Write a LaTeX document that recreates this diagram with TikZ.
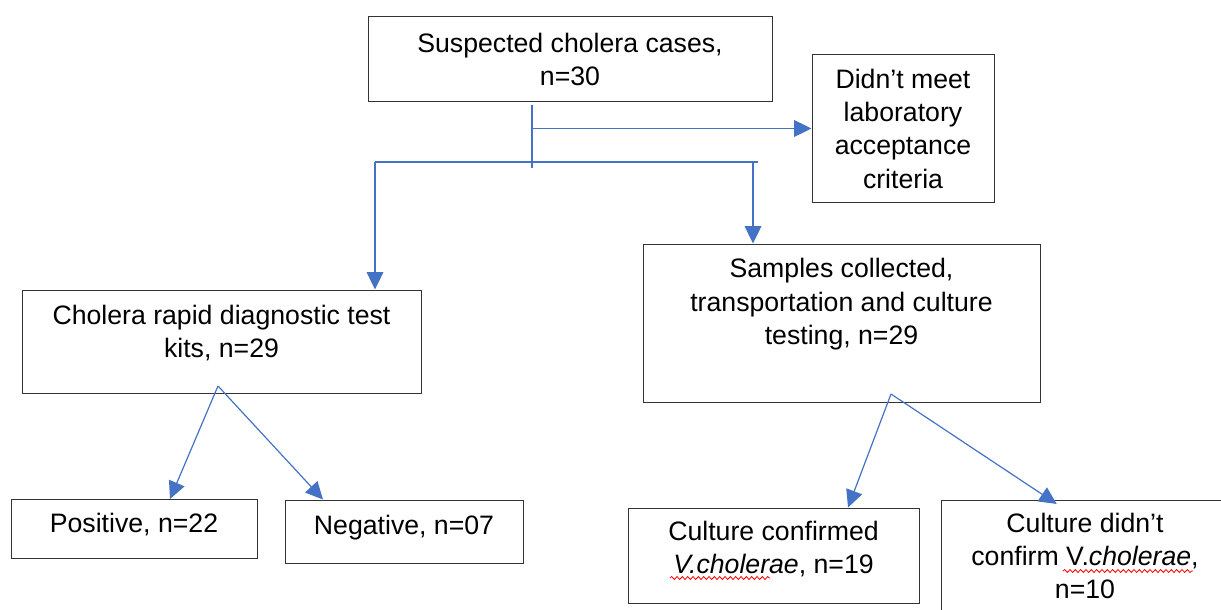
\documentclass[tikz,border=0pt]{standalone}
\usepackage{fontspec}
\setmainfont{Liberation Sans}
\usetikzlibrary{arrows.meta,decorations.pathmorphing}
\definecolor{linkblue}{RGB}{68,114,196}
\tikzset{
  box/.style={draw=black!80,line width=0.75pt,inner sep=0pt,align=center,font=\fontsize{20}{25}\selectfont},
  link/.style={draw=linkblue,line width=0.9pt},
  arrow/.style={link,-{Triangle[length=13pt,width=12.5pt]}},
  spellwave/.style={draw=red,line width=0.6pt,decorate,decoration={snake,segment length=4pt,amplitude=1.1pt}}
}

\begin{document}
\begin{tikzpicture}[x=0.75pt,y=-0.75pt]
  \useasboundingbox (0,0) rectangle (1221,610);
  \clip (0,0) rectangle (1221,610);
  % boxes
  \node[box,minimum width=303pt,minimum height=63.75pt] (cases) at (570,59.5) {Suspected cholera cases,\\n=30};
  \node[box,minimum width=136.5pt,minimum height=110.25pt] (excluded) at (903,128.5) {Didn’t meet\\laboratory\\acceptance\\criteria};
  \node[box,minimum width=299.25pt,minimum height=77.25pt,text depth=15pt] (rdt) at (221.5,341.5) {Cholera rapid diagnostic test\\kits, n=29};
  \node[box,minimum width=297.75pt,minimum height=118.5pt,text depth=32pt] (samples) at (841.5,323) {Samples collected,\\transportation and culture\\testing, n=29};
  \node[box,minimum width=184.5pt,minimum height=44.25pt,text depth=10pt] (positive) at (134,529) {Positive, n=22};
  \node[box,minimum width=178.5pt,minimum height=47.25pt,text depth=10pt] (negative) at (404,531.5) {Negative, n=07};
  \node[box,minimum width=218.25pt,minimum height=71.25pt,text depth=12pt] (confirmed) at (773.5,555.5) {Culture confirmed\\\textit{V.cholerae}, n=19};
  \node[box,minimum width=216pt,minimum height=84pt] (notconfirmed) at (1085,556) {Culture didn’t\\confirm V.\textit{cholerae},\\n=10};
  % spell-check underlines
  \draw[spellwave] (670,578) -- (770,578);
  \draw[spellwave] (1063,571) -- (1193,571);
  % connectors
  \coordinate (stem top) at (532,105);
  \coordinate (stem end) at (532,168);
  \coordinate (split left) at (375,162);
  \coordinate (split right) at (758,162);
  \coordinate (drop) at (753,162);
  \coordinate (rdt fork) at (218,386);
  \coordinate (samples fork) at (891,394);
  \draw[link] (stem top) -- (stem end);
  \draw[arrow] (stem top |- excluded.west) -- (excluded.west);
  \draw[link] (split left) -- (split right);
  \draw[arrow] (split left) -- (split left |- rdt.north);
  \draw[arrow] (drop) -- (drop |- samples.north);
  \draw[arrow] (rdt fork) -- ([xshift=27pt]positive.north);
  \draw[arrow] (rdt fork) -- ([xshift=-60.75pt]negative.north);
  \draw[arrow] (samples fork) -- ([xshift=55.9pt]confirmed.north);
  \draw[arrow,shorten >=-6pt] (samples fork) -- ([xshift=-26.25pt]notconfirmed.north);
\end{tikzpicture}
\end{document}
